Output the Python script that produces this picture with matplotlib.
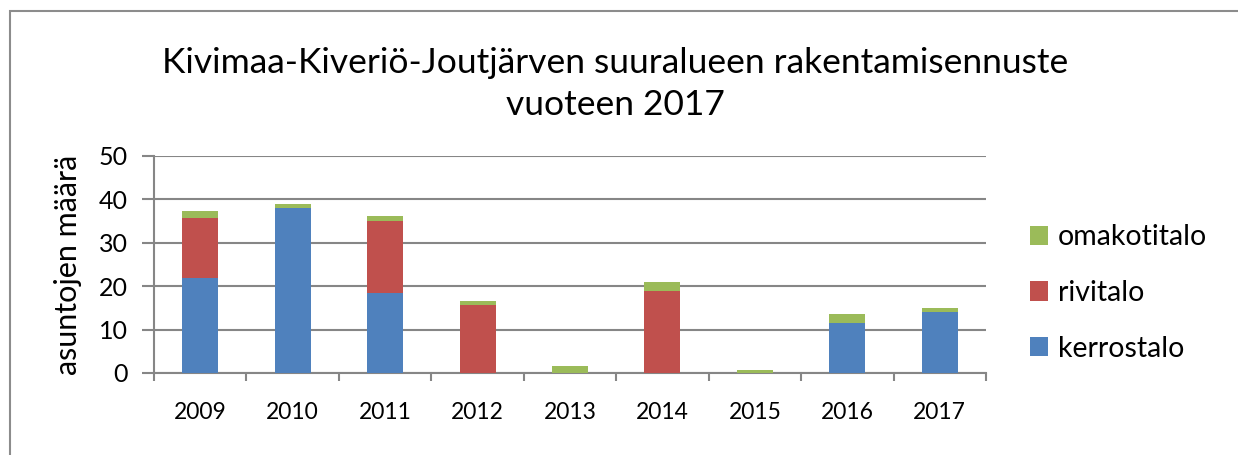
import numpy as np
import matplotlib.pyplot as plt
from matplotlib.patches import Rectangle

years = ['2009', '2010', '2011', '2012', '2013', '2014', '2015', '2016', '2017']
kerrostalo = [22, 38, 18.5, 0, 0, 0, 0, 11.5, 14]
rivitalo = [13.7, 0, 16.5, 15.6, 0, 19, 0, 0, 0]
omakotitalo = [1.7, 1, 1.1, 1.1, 1.5, 2, 0.6, 2, 1]

plt.rcParams['font.family'] = ['Lato', 'DejaVu Sans']

fig = plt.figure(figsize=(12.38, 4.55), dpi=100)
W, H = 1238, 455
ax = fig.add_axes([154 / W, 1 - 373 / H, (986 - 154) / W, (373 - 156) / H])

# outer chart frame (cut off at right and bottom)
fig.patches.append(Rectangle((10 / W, -0.1), 1.2, 1.1 - 11 / H, transform=fig.transFigure,
                             fill=False, edgecolor='#8c8c8c', linewidth=1.5))

x = np.arange(len(years))
k = np.array(kerrostalo)
r = np.array(rivitalo)
o = np.array(omakotitalo)
w = 0.39
ax.bar(x, k, w, color='#4F81BD', label='kerrostalo', zorder=3)
ax.bar(x, r, w, bottom=k, color='#C0504D', label='rivitalo', zorder=3)
ax.bar(x, o, w, bottom=k + r, color='#9BBB59', label='omakotitalo', zorder=3)

ax.set_xlim(-0.5, len(years) - 0.5)
ax.set_ylim(0, 50)
ax.set_yticks(range(0, 51, 10))
ax.yaxis.grid(True, color='#868686', linewidth=1.5, zorder=0)
ax.set_xticks(x)
ax.set_xticklabels(years, fontsize=16.5)
ax.set_xticks(np.arange(-0.5, len(years)), minor=True)
ax.tick_params(axis='x', which='major', length=0, pad=21)
ax.tick_params(axis='x', which='minor', length=6, width=1.5, color='#868686')
ax.tick_params(axis='y', length=9, width=1.5, color='#868686', labelsize=18, pad=10)

for s in ['top', 'right']:
    ax.spines[s].set_visible(False)
for s in ['left', 'bottom']:
    ax.spines[s].set_color('#868686')
    ax.spines[s].set_linewidth(1.5)

ax.set_ylabel('asuntojen määrä', fontsize=22, labelpad=12)

fig.text(615 / W, 1 - 84 / H,
         'Kivimaa-Kiveriö-Joutjärven suuralueen rakentamisennuste\nvuoteen 2017',
         ha='center', va='center', fontsize=25.5, linespacing=1.4)

handles, labels = ax.get_legend_handles_labels()
fig.legend(handles[::-1], labels[::-1], loc='center left',
           bbox_to_anchor=(1004 / W, 1 - 293 / H), frameon=False, fontsize=20.5,
           handlelength=0.65, handleheight=0.65, handletextpad=0.35, labelspacing=1.05)

fig.savefig('out.png', dpi=100)
